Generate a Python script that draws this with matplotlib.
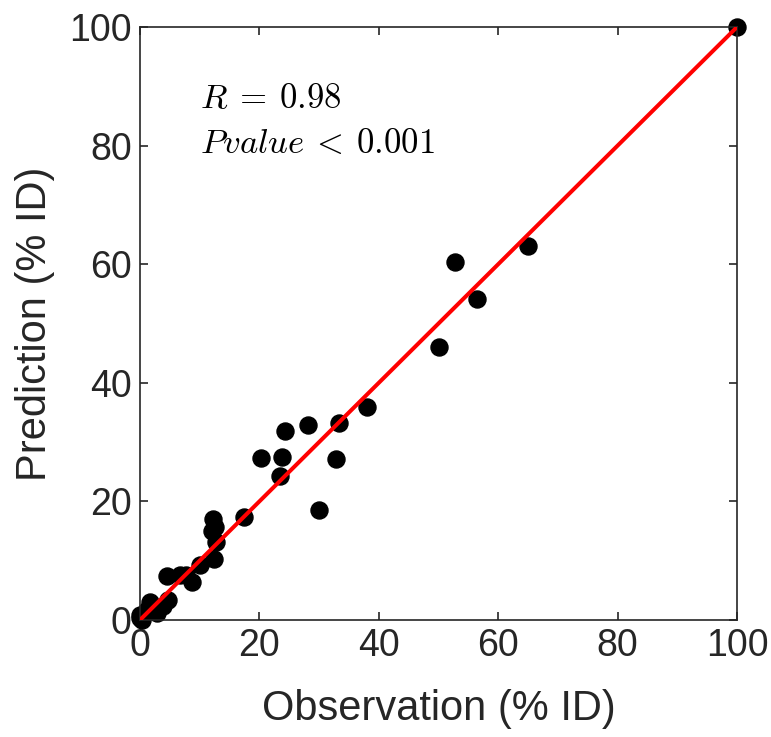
import matplotlib
matplotlib.use("Agg")
import matplotlib.pyplot as plt
import numpy as np

# observation vs prediction (% ID)
obs = [100, 64.9, 52.7, 56.4, 50.1, 38.0, 33.4, 28.1, 24.3, 32.8, 23.8, 20.2,
       23.5, 29.9, 17.5, 12.3, 12.6, 12.0, 12.8, 12.4, 10.0, 8.7, 7.7, 6.7,
       4.5, 4.7, 1.7, 1.1, 2.8, 3.9, 0.0, 0.0, 0.3]
pred = [100, 63.0, 60.3, 54.2, 46.0, 35.9, 33.2, 32.8, 31.9, 27.1, 27.4, 27.3,
        24.2, 18.5, 17.4, 17.0, 15.7, 15.0, 13.2, 10.3, 9.2, 6.4, 7.6, 7.5,
        7.4, 3.4, 3.0, 1.7, 1.2, 2.4, 0.8, 0.3, 0.0]
fit_x = [0, 100]
fit_y = [0, 100]

plt.rcParams['mathtext.fontset'] = 'cm'
plt.rcParams['font.family'] = ['Liberation Sans', 'DejaVu Sans']

fig = plt.figure(figsize=(7.71, 7.37), dpi=100)
ax = fig.add_axes([0.1816, 0.1588, 0.956 - 0.1816, 0.9634 - 0.1588])

ax.scatter(obs, pred, s=150, color='black', zorder=2, clip_on=False)
ax.plot(fit_x, fit_y, color='red', linewidth=2.9, zorder=3)

ax.set_xlim(0, 100)
ax.set_ylim(0, 100)
ax.set_xticks(np.arange(0, 101, 20))
ax.set_yticks(np.arange(0, 101, 20))
ax.tick_params(direction='in', length=6, width=1.2, labelsize=27, colors='#262626',
               top=True, right=True, pad=6)
for sp in ax.spines.values():
    sp.set_linewidth(1.2)
    sp.set_color('#262626')

ax.set_xlabel('Observation (% ID)', fontsize=30, color='#262626', labelpad=18)
ax.set_ylabel('Prediction (% ID)', fontsize=30, color='#262626', labelpad=10)

ax.text(10, 88, r'$R\:=\:0.98$', fontsize=25, va='center')
ax.text(10, 80.3, r'$Pvalue\:<\:0.001$', fontsize=25, va='center')

fig.savefig('out.png', dpi=100)
